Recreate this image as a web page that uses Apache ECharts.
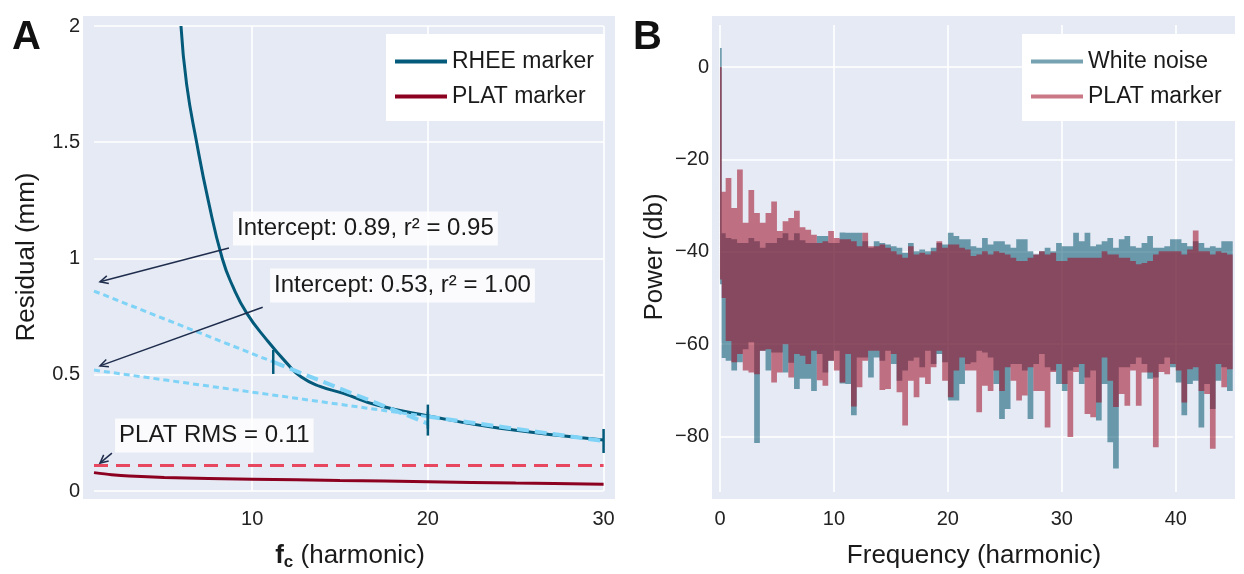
<!DOCTYPE html>
<html><head><meta charset="utf-8">
<script src="https://cdn.jsdelivr.net/npm/echarts@6/dist/echarts.min.js"></script>
<style>html,body{margin:0;padding:0;background:#fff}#c{width:1244px;height:574px}</style>
</head><body><div id="c"></div>
<script>
// ---------- Panel A data ----------
const xTicksA = [10, 20, 30];
const yTicksA = [0, 0.5, 1, 1.5, 2];
const rheeX = [5.95, 6.27, 6.84, 7.5, 8.3, 8.9, 9.69, 10.83, 11.97, 12.8, 13.86, 15.19, 17.09, 20.03, 24.1, 30];
const rheeY = [2.0, 1.75, 1.5, 1.25, 1.0, 0.88, 0.765, 0.65, 0.55, 0.49, 0.45, 0.42, 0.37, 0.323, 0.27, 0.219];
const platX = [1, 2, 3, 5, 10, 15, 20, 25, 30];
const platY = [0.079, 0.07, 0.064, 0.058, 0.051, 0.045, 0.04, 0.034, 0.029];
const platRms = 0.11;
const fit1DottedX = [1, 11.2], fit1DottedY = [0.86, 0.555];
const fit1DashedX = [11.2, 20], fit1DashedY = [0.555, 0.29];
const fit2DottedX = [1, 20], fit2DottedY = [0.52, 0.32];
const fit2DashedX = [20, 30], fit2DashedY = [0.32, 0.215];
const annTexts = ['Intercept: 0.89, r² = 0.95', 'Intercept: 0.53, r² = 1.00', 'PLAT RMS = 0.11'];
const annTextX = [8.91, 11.02, 2.2];
const annTextY = [1.129, 0.884, 0.239];
const arrowFromX = [8.68, 10.6, 2.02], arrowFromY = [1.045, 0.79, 0.163];
const arrowToX = [1.34, 1.34, 1.34], arrowToY = [0.90, 0.538, 0.12];

// ---------- Panel B data ----------
const xTicksB = [0, 10, 20, 30, 40];
const yTicksB = [0, -20, -40, -60, -80];
const freqEnd = 45;
const binStart = [0, 0.15, 0.5, 1, 1.5, 2, 2.5, 3, 3.5, 4, 4.5, 5, 5.5, 6, 6.5, 7, 7.5, 8, 8.5, 9, 9.5, 10, 10.5, 11, 11.5, 12, 12.5, 13, 13.5, 14, 14.5, 15, 15.5, 16, 16.5, 17, 17.5, 18, 18.5, 19, 19.5, 20, 20.5, 21, 21.5, 22, 22.5, 23, 23.5, 24, 24.5, 25, 25.5, 26, 26.5, 27, 27.5, 28, 28.5, 29, 29.5, 30, 30.5, 31, 31.5, 32, 32.5, 33, 33.5, 34, 34.5, 35, 35.5, 36, 36.5, 37, 37.5, 38, 38.5, 39, 39.5, 40, 40.5, 41, 41.5, 42, 42.5, 43, 43.5, 44, 44.5];
const noiseTop = [4.1, -36, -37.0, -37.3, -38.1, -38.1, -37.0, -37.7, -39.1, -38.1, -38.1, -37.0, -36.0, -37.5, -36.0, -37.5, -38.1, -38.1, -36.6, -36.6, -38.1, -38.1, -35.8, -35.9, -35.9, -35.9, -37.7, -39.1, -37.7, -38.1, -38.4, -38.8, -39.1, -40.2, -38.1, -39.9, -39.5, -39.9, -39.1, -38.1, -38.4, -35.9, -36.6, -37.3, -37.3, -38.8, -39.1, -37.0, -38.4, -37.7, -37.7, -38.4, -39.1, -37.3, -37.3, -39.9, -40.6, -39.9, -39.1, -39.9, -38.1, -38.8, -38.8, -35.9, -37.7, -35.9, -38.8, -38.4, -37.7, -37.0, -39.1, -37.3, -36.6, -38.8, -39.1, -38.1, -36.6, -39.1, -39.1, -38.8, -37.3, -37.3, -38.1, -38.8, -37.7, -38.1, -39.1, -38.8, -39.1, -37.7, -37.7];
const noiseBottom = [-47, -63, -63.6, -65.7, -63.9, -61.1, -59.6, -81.4, -61.4, -65.7, -61.8, -61.8, -66.1, -64.0, -69.7, -67.5, -67.5, -70.1, -62.1, -66.1, -63.6, -61.4, -68.5, -68.6, -75.4, -62.9, -62.9, -67.2, -62.9, -63.6, -61.4, -64.3, -67.9, -65.7, -63.6, -62.9, -65.0, -61.4, -64.3, -62.1, -63.9, -72.2, -72.2, -68.6, -64.3, -63.9, -61.4, -61.8, -62.9, -68.6, -76.2, -74.0, -64.3, -64.3, -65.7, -76.2, -64.3, -62.1, -65.0, -65.7, -68.6, -70.1, -65.7, -65.0, -68.6, -67.2, -65.7, -76.5, -68.6, -81.2, -86.9, -65.0, -65.0, -64.3, -62.9, -64.3, -67.5, -67.2, -64.3, -62.9, -65.0, -68.3, -75.4, -68.6, -67.9, -78.0, -68.6, -74.0, -67.9, -65.0, -70.1];
const platTop = [0, -27, -24.0, -30.5, -22.2, -33.7, -26.6, -31.6, -33.7, -31.6, -29.1, -35.5, -33.4, -32.7, -31.1, -34.7, -35.2, -36.3, -38.1, -37.7, -35.5, -37.0, -37.3, -37.3, -37.7, -38.8, -35.9, -38.8, -38.8, -38.4, -39.1, -39.9, -40.6, -41.3, -38.8, -40.6, -40.2, -40.6, -39.9, -37.7, -39.1, -38.4, -38.4, -39.1, -39.5, -40.9, -40.6, -39.9, -40.6, -39.9, -40.2, -40.6, -41.3, -42.0, -42.0, -41.3, -40.6, -39.9, -40.6, -40.2, -42.0, -42.0, -41.3, -41.3, -41.3, -41.3, -41.3, -41.3, -39.9, -40.6, -40.6, -41.3, -41.3, -42.0, -42.7, -42.4, -42.0, -40.6, -39.9, -39.9, -39.9, -39.9, -40.6, -39.5, -35.4, -39.9, -39.9, -40.6, -39.9, -40.2, -40.6];
const platBottom = [-46, -50, -59.3, -63.9, -62.1, -65.7, -66.1, -66.5, -61.4, -61.1, -68.3, -66.1, -60.0, -67.2, -62.1, -62.5, -64.3, -61.4, -67.8, -69.0, -63.6, -65.7, -68.3, -62.1, -73.5, -69.3, -63.6, -61.4, -61.4, -69.9, -69.7, -62.1, -70.4, -77.6, -67.9, -71.5, -67.2, -68.6, -65.0, -61.4, -67.9, -71.5, -65.7, -62.9, -65.7, -65.7, -74.7, -69.0, -70.1, -65.7, -70.1, -65.0, -67.9, -72.2, -71.1, -65.0, -70.1, -70.1, -78.0, -66.0, -64.3, -68.6, -80.1, -66.0, -64.3, -75.1, -75.8, -72.6, -62.9, -67.9, -73.6, -70.8, -73.3, -65.7, -73.3, -66.1, -66.1, -82.3, -66.0, -66.5, -64.3, -65.7, -72.6, -65.4, -65.0, -70.1, -70.8, -82.6, -64.3, -69.3, -65.4];

// ---------- styling ----------
const FONT = 'Liberation Sans, Arial, sans-serif';
const BG = '#e5eaf4';
const TEAL = '#035a7a';
const DARKRED = '#8c0020';
const RMSRED = '#e8485f';
const LIGHTBLUE = '#7fd3f7';
const NAVY = '#1f2d4d';
const NOISE = 'rgba(3,84,111,0.55)';
const PLATB = 'rgba(159,9,34,0.55)';

const zip = (xs, ys) => xs.map((x, i) => [x, ys[i]]);

function gridLines(ticks, vertical, from, to, xi) {
  return {
    type: 'lines', coordinateSystem: 'cartesian2d', xAxisIndex: xi, yAxisIndex: xi, silent: true, z: 1,
    lineStyle: { color: '#ffffff', width: 1.6, opacity: 1 },
    data: ticks.map(t => ({ coords: vertical ? [[t, from], [t, to]] : [[from, t], [to, t]] }))
  };
}

function spectrum(name, lo, hi, color) {
  return {
    type: 'custom', name, xAxisIndex: 1, yAxisIndex: 1, z: 3,
    itemStyle: { color },
    data: binStart.map((x, i) => [x, i < binStart.length - 1 ? binStart[i + 1] : freqEnd, lo[i], hi[i]]),
    encode: { x: [0, 1], y: [2, 3] },
    renderItem(params, api) {
      if (params.dataIndex !== 0) return null;
      const pts = [];
      for (let i = 0; i < binStart.length; i++) {
        const x0 = binStart[i], x1 = i < binStart.length - 1 ? binStart[i + 1] : freqEnd;
        pts.push(api.coord([x0, hi[i]]), api.coord([x1, hi[i]]));
      }
      for (let i = binStart.length - 1; i >= 0; i--) {
        const x0 = binStart[i], x1 = i < binStart.length - 1 ? binStart[i + 1] : freqEnd;
        pts.push(api.coord([x1, lo[i]]), api.coord([x0, lo[i]]));
      }
      return { type: 'polygon', shape: { points: pts }, style: { fill: color } };
    }
  };
}

const annData = annTexts.map((t, i) => [arrowFromX[i], arrowFromY[i], arrowToX[i], arrowToY[i], annTextX[i], annTextY[i], i]);

const annotations = {
  type: 'custom', xAxisIndex: 0, yAxisIndex: 0, z: 10, silent: true,
  data: annData,
  renderItem(params, api) {
    const a = api.coord([api.value(0), api.value(1)]);
    const b = api.coord([api.value(2), api.value(3)]);
    const t = api.coord([api.value(4), api.value(5)]);
    const ang = Math.atan2(b[1] - a[1], b[0] - a[0]);
    const L = 9, w = 0.45;
    const h1 = [b[0] - L * Math.cos(ang - w), b[1] - L * Math.sin(ang - w)];
    const h2 = [b[0] - L * Math.cos(ang + w), b[1] - L * Math.sin(ang + w)];
    const st = { stroke: NAVY, lineWidth: 1.5, fill: null };
    return {
      type: 'group', children: [
        { type: 'line', shape: { x1: a[0], y1: a[1], x2: b[0], y2: b[1] }, style: st },
        { type: 'polyline', shape: { points: [h1, b, h2] }, style: st },
        { type: 'text', x: t[0], y: t[1], style: {
            text: annTexts[api.value(6)], fill: '#1a1a1a', font: '24px ' + FONT,
            align: 'left', verticalAlign: 'middle',
            backgroundColor: 'rgba(255,255,255,0.82)', padding: [5, 4, 5, 4] } }
      ]
    };
  }
};

const option = {
  animation: false,
  textStyle: { fontFamily: FONT },
  grid: [
    { left: 83, top: 16, width: 532, height: 483, show: true, backgroundColor: BG, borderWidth: 0 },
    { left: 712, top: 16, width: 523, height: 483, show: true, backgroundColor: BG, borderWidth: 0 }
  ],
  xAxis: [
    { type: 'value', gridIndex: 0, min: 0.374, max: 30.65, axisLine: { show: false }, axisTick: { show: false }, splitLine: { show: false },
      axisLabel: { customValues: xTicksA, fontSize: 20, color: '#222', margin: 10, fontFamily: FONT } },
    { type: 'value', gridIndex: 1, min: -0.70, max: 45.2, axisLine: { show: false }, axisTick: { show: false }, splitLine: { show: false },
      axisLabel: { customValues: xTicksB, fontSize: 20, color: '#222', margin: 10, fontFamily: FONT } }
  ],
  yAxis: [
    { type: 'value', gridIndex: 0, min: -0.0344, max: 2.043, axisLine: { show: false }, axisTick: { show: false }, splitLine: { show: false },
      axisLabel: { customValues: yTicksA, fontSize: 20, color: '#222', margin: 3, fontFamily: FONT } },
    { type: 'value', gridIndex: 1, min: -93.5, max: 11.04, axisLine: { show: false }, axisTick: { show: false }, splitLine: { show: false },
      axisLabel: { customValues: yTicksB, fontSize: 20, color: '#222', margin: 3, fontFamily: FONT,
        formatter: v => (v < 0 ? '\u2212' + Math.abs(v) : String(v)) } }
  ],
  legend: [
    { data: ['RHEE marker', 'PLAT marker'], left: 386, top: 34, orient: 'vertical', padding: [16, 11, 13, 9], itemGap: 12,
      itemWidth: 52, itemHeight: 4, icon: 'rect', backgroundColor: '#ffffff', textStyle: { fontSize: 23, color: '#1a1a1a', fontFamily: FONT },
      selectedMode: false },
    { data: ['White noise', 'PLAT marker '], left: 1022, top: 34, orient: 'vertical', padding: [16, 11, 13, 9], itemGap: 12,
      itemWidth: 52, itemHeight: 4, icon: 'rect', backgroundColor: '#ffffff', textStyle: { fontSize: 23, color: '#1a1a1a', fontFamily: FONT },
      selectedMode: false }
  ],
  graphic: [
    { type: 'text', left: 12, top: 18, style: { text: 'A', font: 'bold 40px ' + FONT, fill: '#111' } },
    { type: 'text', left: 633, top: 18, style: { text: 'B', font: 'bold 40px ' + FONT, fill: '#111' } },
    { type: 'text', x: 27, y: 257, rotation: Math.PI / 2, style: { text: 'Residual (mm)', font: '26px ' + FONT, fill: '#1a1a1a', align: 'center', verticalAlign: 'middle' } },
    { type: 'text', x: 655, y: 257, rotation: Math.PI / 2, style: { text: 'Power (db)', font: '26px ' + FONT, fill: '#1a1a1a', align: 'center', verticalAlign: 'middle' } },
    { type: 'text', x: 350, y: 556, style: { text: '{b|f}{s|c}{n| (harmonic)}', align: 'center', verticalAlign: 'middle',
        rich: { b: { font: 'bold 26px ' + FONT, fill: '#1a1a1a' }, s: { font: 'bold 17px ' + FONT, fill: '#1a1a1a', padding: [12, 0, 0, 0] }, n: { font: '26px ' + FONT, fill: '#1a1a1a' } } } },
    { type: 'text', x: 974, y: 556, style: { text: 'Frequency (harmonic)', font: '26px ' + FONT, fill: '#1a1a1a', align: 'center', verticalAlign: 'middle' } }
  ],
  series: [
    gridLines(xTicksA, true, 0, 2, 0),
    gridLines(yTicksA, false, 1, 30, 0),
    { type: 'line', name: 'PLAT RMS', xAxisIndex: 0, yAxisIndex: 0, z: 4, showSymbol: false, silent: true,
      data: [[1, platRms], [30, platRms]], lineStyle: { color: RMSRED, width: 3, type: [14, 8] } },
    { type: 'line', name: 'PLAT marker', xAxisIndex: 0, yAxisIndex: 0, z: 4, showSymbol: false, smooth: 0.3,
      data: zip(platX, platY), lineStyle: { color: DARKRED, width: 3 }, itemStyle: { color: DARKRED } },
    { type: 'line', name: 'RHEE marker', xAxisIndex: 0, yAxisIndex: 0, z: 4, showSymbol: false, smooth: 0.5,
      data: zip(rheeX, rheeY), lineStyle: { color: TEAL, width: 3 }, itemStyle: { color: TEAL } },
    { type: 'line', name: 'fit1 dotted', xAxisIndex: 0, yAxisIndex: 0, z: 5, showSymbol: false,
      data: zip(fit1DottedX, fit1DottedY), lineStyle: { color: LIGHTBLUE, width: 3, type: [6, 4] } },
    { type: 'line', name: 'fit2 dotted', xAxisIndex: 0, yAxisIndex: 0, z: 5, showSymbol: false,
      data: zip(fit2DottedX, fit2DottedY), lineStyle: { color: LIGHTBLUE, width: 3, type: [6, 4] } },
    { type: 'line', name: 'fit1 dashed', xAxisIndex: 0, yAxisIndex: 0, z: 5, symbol: 'rect', symbolSize: [2.5, 24], showSymbol: true,
      data: zip(fit1DashedX, fit1DashedY), lineStyle: { color: LIGHTBLUE, width: 4, type: [12, 6] }, itemStyle: { color: TEAL } },
    { type: 'line', name: 'fit2 dashed', xAxisIndex: 0, yAxisIndex: 0, z: 5, symbol: 'rect', symbolSize: [2.5, 24], showSymbol: true,
      data: zip(fit2DashedX, fit2DashedY), lineStyle: { color: LIGHTBLUE, width: 4, type: [12, 6] }, itemStyle: { color: TEAL } },
    annotations,
    gridLines(xTicksB, true, -92, 9.1, 1),
    gridLines(yTicksB, false, 0, 45, 1),
    spectrum('White noise', noiseBottom, noiseTop, NOISE),
    spectrum('PLAT marker ', platBottom, platTop, PLATB)
  ]
};
const chart = echarts.init(document.getElementById('c'), null, { renderer: 'canvas' });
chart.setOption(option);
</script></body></html>
